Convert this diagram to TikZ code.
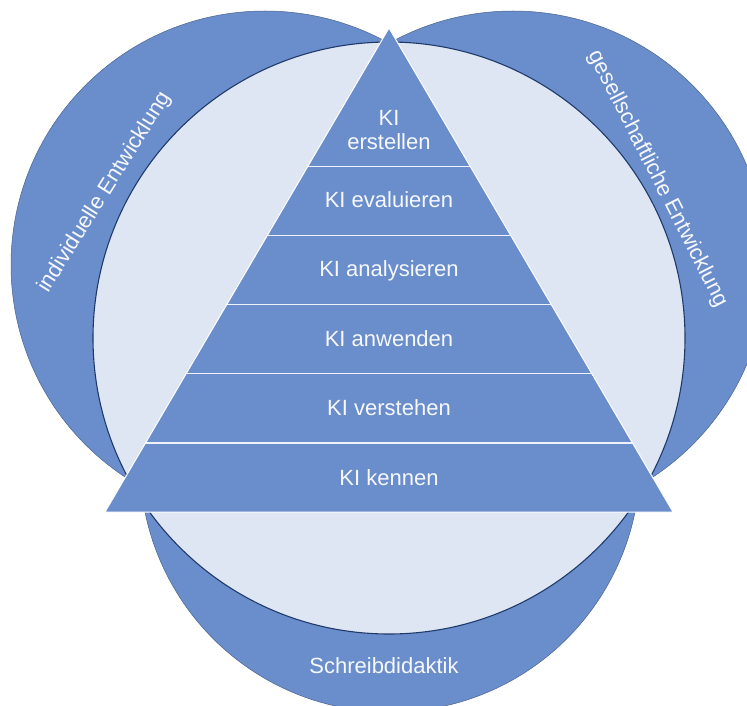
\documentclass[tikz,border=0pt]{standalone}
\usepackage{fontspec}
\setmainfont{Liberation Sans}
\usepackage{xcolor}
\usetikzlibrary{positioning,calc}
\definecolor{kiblue}{HTML}{6A8DCC}
\definecolor{kilight}{HTML}{DFE6F3}
\definecolor{kinavy}{HTML}{1E3A6B}
\definecolor{kitext}{HTML}{F6F8FC}
\tikzset{
  ringcircle/.style={
    circle, draw=kiblue!70!black, fill=kiblue, line width=0.5pt,
    inner sep=0pt, minimum size=#1
  },
  corecircle/.style={
    circle, draw=kinavy, fill=kilight, line width=1.1pt,
    inner sep=0pt, minimum size=#1
  },
  layerfill/.style={fill=kiblue, draw=white, line width=1pt, line join=round},
  layerline/.style={draw=kilight!50!white, line width=1.3pt},
  labeltext/.style={
    font=\fontsize{22}{24}\selectfont, text=kitext,
    align=center, inner sep=0pt
  },
  layerlabel/.style={labeltext, text height=16pt, text depth=0pt},
}

\begin{document}
\begin{tikzpicture}[x=1pt, y=-1pt]
    \clip (0,0) rectangle (747,706);
    \fill[white] (0,0) rectangle (747,706);

    % OUTER RINGS
    \node[ringcircle=500pt] (schreib) at (390,462) {};
    \node[ringcircle=508pt] (individ) at (265,265) {};
    \node[ringcircle=508pt] (gesell) at (513,265) {};
    \node[corecircle=592pt] (core) at (389,338) {};

    \node[layerlabel, rotate=58] (individtext) at (103,191) {individuelle Entwicklung};
    \node[layerlabel, rotate=-63] (geselltext) at (660,178) {gesellschaftliche Entwicklung};
    \node[layerlabel] (schreibtext) at (384,665) {Schreibdidaktik};

    % PYRAMID
    \coordinate (apex) at (389,28);
    \coordinate (bl) at (105,512);
    \coordinate (br) at (673,512);
    \draw[layerfill] (apex) -- (br) -- (bl) -- cycle;
    \foreach \k in {2,...,6}
        \draw[layerline] ($(apex)!\k/7!(bl)$) -- ($(apex)!\k/7!(br)$);

    \node[labeltext] (erstellen) at (389,130) {KI\\erstellen};
    \node[layerlabel] (kennen) at (389,477) {KI kennen};
    \node[layerlabel, above=53.1pt of kennen] (verstehen) {KI verstehen};
    \node[layerlabel, above=53.1pt of verstehen] (anwenden) {KI anwenden};
    \node[layerlabel, above=53.1pt of anwenden] (analysieren) {KI analysieren};
    \node[layerlabel, above=53.1pt of analysieren] (evaluieren) {KI evaluieren};
\end{tikzpicture}
\end{document}
